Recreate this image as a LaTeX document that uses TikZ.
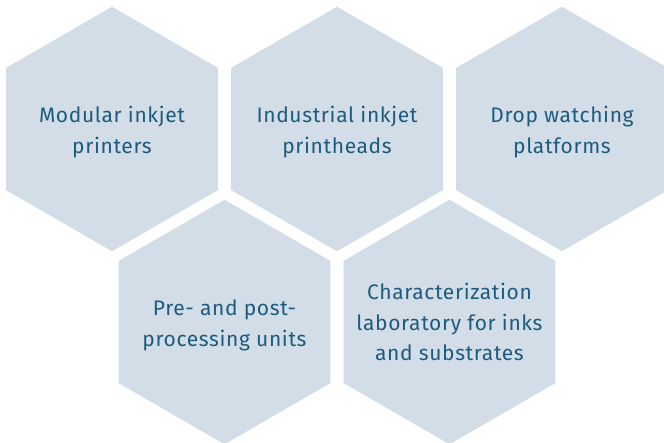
\documentclass[tikz,border=0pt]{standalone}
\usepackage{fontspec}
\setmainfont[LetterSpace=3.0]{Fira Sans}
\usetikzlibrary{shapes.geometric}
\definecolor{hexfill}{HTML}{D2DDE8}
\definecolor{hextext}{HTML}{1D5B7E}
\tikzset{
  hexcell/.style={regular polygon, regular polygon sides=6, shape border rotate=30,
    minimum size=244.5pt, inner sep=0pt, outer sep=0pt, fill=hexfill, draw=none},
  hextxt/.style={text=hextext, font=\fontsize{21}{30.6}\selectfont, align=center,
    inner sep=0pt, text height=14.3pt, text depth=4.5pt, anchor=base}
}
\begin{document}
\begin{tikzpicture}[x=1pt,y=-1pt]
\useasboundingbox (0,0) rectangle (664,443);
\clip (0,0) rectangle (664,443);
\node[hexcell] (h1) at (112,129) {};
\node[hexcell] (h2) at (337,129) {};
\node[hexcell] (h3) at (562,129) {};
\node[hexcell] (h4) at (224.5,322) {};
\node[hexcell] (h5) at (449.5,322) {};
\node[hextxt] (t1) at ([yshift=-24.3pt]h1.center) {Modular inkjet\\printers};
\node[hextxt] (t2) at ([yshift=-24.3pt]h2.center) {Industrial inkjet\\printheads};
\node[hextxt] (t3) at ([yshift=-24.3pt]h3.center) {Drop watching\\platforms};
\node[hextxt] (t4) at ([yshift=-24.3pt]h4.center) {Pre- and post-\\processing units};
\node[hextxt] (t5) at ([yshift=-39pt]h5.center) {Characterization\\laboratory for inks\\and substrates};
\end{tikzpicture}
\end{document}
